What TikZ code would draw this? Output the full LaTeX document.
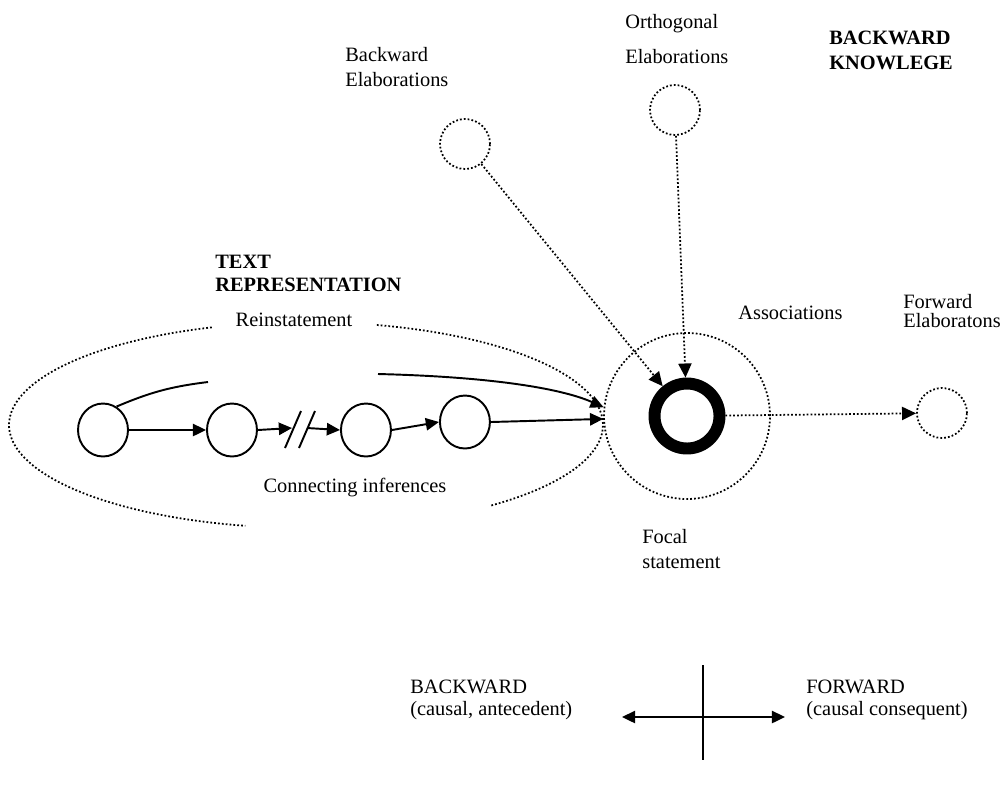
\documentclass[tikz,border=0pt]{standalone}
\usepackage{fontspec}
\setmainfont{Liberation Serif}
\usetikzlibrary{arrows.meta,shapes.geometric}

\begin{document}
\begin{tikzpicture}[
    x=0.02cm, y=0.02cm,
    every node/.style={font=\fontsize{11.6pt}{14.2pt}\selectfont, inner sep=0pt},
    txt/.style={align=left, anchor=west},
    head/.style={txt, font=\fontsize{11.6pt}{14.2pt}\selectfont\bfseries},
    dots/.style={line width=1pt, dash pattern=on 1pt off 1.2pt},
    stmt/.style={ellipse, draw, line width=1.1pt, minimum width=1cm, minimum height=1.06cm},
    elab/.style={circle, draw, dots, minimum size=1cm},
    line/.style={draw, line width=1.1pt, -{Triangle[length=7.5pt,width=7pt]}},
    dline/.style={draw, dots, -{Triangle[length=8pt,width=7.5pt]}}
  ]
    \useasboundingbox (0,0) rectangle (1006,-785);

    \node [stmt] (c1) at (103,-430) {};
    \node [stmt, right of=c1, xshift=1.58cm] (c2) {};
    \node [stmt, right of=c2, xshift=1.68cm] (c3) {};
    \node [stmt, right of=c3, xshift=0.98cm, yshift=0.16cm] (c4) {};

    \node [circle, draw, dots, minimum size=3.32cm] (foc) at (687,-416) {};
    \node [circle, draw, line width=6.8pt, minimum size=1.3cm] (ring) at (foc) {};
    \node [elab, right of=foc, xshift=4.1cm, yshift=0.06cm] (fwd) {};
    \node [elab] (orth) at (675,-110) {};
    \node [elab] (bel) at (465,-144) {};

    \coordinate (tr) at (306,-425);
    \draw [dots] ([shift={(76.2:5.94cm and 2.06cm)}]tr) arc [start angle=76.2, end angle=-51.7, x radius=5.94cm, y radius=2.06cm];
    \draw [dots] ([shift={(108.5:5.94cm and 2.06cm)}]tr) arc [start angle=108.5, end angle=258.2, x radius=5.94cm, y radius=2.06cm];

    \coordinate (brk1) at (292,-428);
    \coordinate (brk2) at (307,-428);
    \coordinate (r1) at (208,-382);
    \coordinate (r2) at (378,-374);

    \path [line] (c1.east) -- (c2.west);
    \path [line] (c2.east) -- (brk1);
    \draw [line width=1.1pt] ([shift={(-7,-20)}]brk1) -- ([shift={(9,17)}]brk1);
    \draw [line width=1.1pt] ([shift={(-8,-20)}]brk2) -- ([shift={(8,17)}]brk2);
    \path [line] (brk2) -- (c3.west);
    \path [line] (c3.east) -- (c4.west);
    \path [line] (c4.east) -- (foc.182);
    \draw [line width=1.1pt] (c1.60) to [bend left=8] (r1);
    \path [line] (r2) .. controls (500,-377) and (565,-390) .. (foc.174);

    \path [dline] (bel) -- (ring);
    \path [dline] (orth) -- (ring);
    \path [dline] (ring) -- (fwd);

    \node [txt] (belt) at (345,-67) {Backward\\Elaborations};
    \node [txt] (ortht) at (625,-39) {Orthogonal\\[6.2pt]Elaborations};
    \node [head] (bknow) at (829,-50) {BACKWARD\\KNOWLEGE};
    \node [head] (textrep) at (215,-273) {TEXT\\[-1.2pt]REPRESENTATION};
    \node (reinst) at (294,-320) {Reinstatement};
    \node [txt] (assoc) at (738,-313) {Associations};
    \node [txt] (fwdt) at (903,-311) {Forward\\[-2.9pt]Elaboratons};
    \node (conn) at (355,-488) {Connecting inferences};
    \node [txt] (focal) at (642,-549) {Focal\\statement};
    \node [txt] (bwdax) at (410,-700) {BACKWARD\\[-1.7pt](causal, antecedent)};
    \node [txt] (fwdax) at (806,-700) {FORWARD\\[-1.7pt](causal consequent)};

    \coordinate (axT) at (703,-665);
    \coordinate (axB) at (703,-760);
    \coordinate (axL) at (622,-717);
    \coordinate (axR) at (785,-717);
    \draw [line width=1.1pt] (axT) -- (axB);
    \draw [line width=1.1pt, {Triangle[length=7.5pt,width=7pt]}-{Triangle[length=7.5pt,width=7pt]}] (axL) -- (axR);
  \end{tikzpicture}
\end{document}
